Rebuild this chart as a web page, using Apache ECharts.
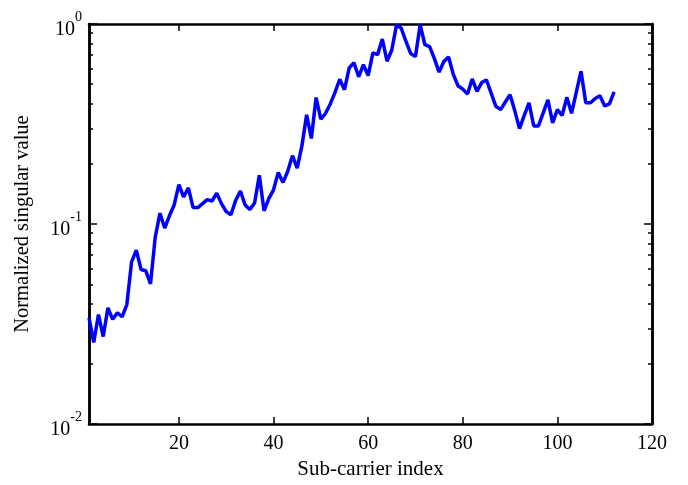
<!DOCTYPE html>
<html>
<head>
<meta charset="utf-8">
<script src="https://cdn.jsdelivr.net/npm/echarts@6/dist/echarts.min.js"></script>
<style>
html,body{margin:0;padding:0;background:#fff;}
#chart{width:688px;height:485px;}
</style>
</head>
<body>
<div id="chart"></div>
<script>
// Sub-carrier indices 1..112
const subCarriers = [
  1,2,3,4,5,6,7,8,9,10,11,12,13,14,15,16,17,18,19,20,
  21,22,23,24,25,26,27,28,29,30,31,32,33,34,35,36,37,38,39,40,
  41,42,43,44,45,46,47,48,49,50,51,52,53,54,55,56,57,58,59,60,
  61,62,63,64,65,66,67,68,69,70,71,72,73,74,75,76,77,78,79,80,
  81,82,83,84,85,86,87,88,89,90,91,92,93,94,95,96,97,98,99,100,
  101,102,103,104,105,106,107,108,109,110,111,112
];
// Normalized singular values
const singularValues = [
  0.034,0.0256,0.0353,0.0274,0.0381,0.0334,0.036,0.0344,0.0396,0.0647,
  0.074,0.0593,0.0584,0.0502,0.086,0.1133,0.0955,0.110,0.1246,0.1575,
  0.1365,0.1518,0.1209,0.1209,0.1265,0.1324,0.1304,0.1428,0.1265,0.1155,
  0.1113,0.1313,0.1462,0.1246,0.1181,0.1275,0.1753,0.1164,0.1339,0.1483,
  0.1809,0.1615,0.1834,0.2195,0.1905,0.2459,0.3516,0.2678,0.4290,0.3342,
  0.3577,0.3986,0.4550,0.5294,0.4697,0.6031,0.6399,0.5447,0.6256,0.5521,
  0.7166,0.7029,0.8414,0.6517,0.7416,0.99,0.9523,0.8178,0.7112,0.6874,
  0.99,0.7877,0.7700,0.6719,0.5752,0.6495,0.6834,0.5604,0.4915,0.4724,
  0.4465,0.5312,0.4607,0.5097,0.5253,0.4516,0.3874,0.3735,0.4077,0.4430,
  0.3680,0.2999,0.3497,0.4040,0.3093,0.3093,0.3597,0.4180,0.3203,0.3735,
  0.3488,0.4300,0.3577,0.4566,0.5798,0.4040,0.4040,0.4242,0.4374,0.3896,
  0.3986,0.4582
];
// Axis ticks
const xTicks = [20, 40, 60, 80, 100, 120];
const yMajorTicks = [0.01, 0.1, 1];
const yMinorTicks = [
  0.02,0.03,0.04,0.05,0.06,0.07,0.08,0.09,
  0.2,0.3,0.4,0.5,0.6,0.7,0.8,0.9
];
const xMin = 1, xMax = 120, yMin = 0.01, yMax = 1;

const FONT = '"Liberation Serif", "Times New Roman", serif';
const chart = echarts.init(document.getElementById('chart'), null, {renderer: 'canvas'});

const axisLine = {show: true, lineStyle: {color: '#000', width: 2.5}};
function yAxisDef(pos, ticks, len, withLabel) {
  return {
    type: 'log', logBase: 10, min: yMin, max: yMax, position: pos,
    axisLine: axisLine,
    splitLine: {show: false},
    minorTick: {show: false},
    axisTick: {show: true, inside: true, length: len, customValues: ticks,
               lineStyle: {color: '#000', width: 1.5}},
    axisLabel: withLabel ? {
      show: true, customValues: ticks, margin: 7,
      padding: [12, 0, 0, 0],
      formatter: function (v) {
        const e = Math.round(Math.log10(v));
        return '{b|10}{s|' + e + '}';
      },
      rich: {
        b: {fontFamily: FONT, fontSize: 20, color: '#000', lineHeight: 40},
        s: {fontFamily: FONT, fontSize: 14, color: '#000', lineHeight: 14, verticalAlign: 'top'}
      }
    } : {show: false}
  };
}

const yAxes = [
  Object.assign(yAxisDef('left', yMajorTicks, 8, true), {
    name: 'Normalized singular value', nameLocation: 'middle', nameGap: 56,
    nameTextStyle: {fontFamily: FONT, fontSize: 20.5, color: '#000'}
  }),
  yAxisDef('left', yMinorTicks, 4, false),
  yAxisDef('right', yMajorTicks, 8, false),
  yAxisDef('right', yMinorTicks, 4, false)
];

const option = {
  animation: false,
  backgroundColor: '#fff',
  grid: {left: 89, right: 36, top: 24, bottom: 55.5, containLabel: false},
  xAxis: [
    {
      type: 'value', min: xMin, max: xMax, position: 'bottom',
      name: 'Sub-carrier index', nameLocation: 'middle', nameGap: 29,
      nameTextStyle: {fontFamily: FONT, fontSize: 21, color: '#000'},
      axisLine: axisLine,
      splitLine: {show: false},
      axisTick: {show: true, inside: true, length: 7, customValues: xTicks,
                 lineStyle: {color: '#000', width: 1.5}},
      axisLabel: {show: true, customValues: xTicks, margin: 10,
                  fontFamily: FONT, fontSize: 20, color: '#000'}
    },
    {
      type: 'value', min: xMin, max: xMax, position: 'top',
      axisLine: axisLine,
      splitLine: {show: false},
      axisTick: {show: true, inside: true, length: 7, customValues: xTicks,
                 lineStyle: {color: '#000', width: 1.5}},
      axisLabel: {show: false}
    }
  ],
  yAxis: yAxes,
  series: [{
    type: 'line',
    xAxisIndex: 0, yAxisIndex: 0,
    data: subCarriers.map((x, i) => [x, singularValues[i]]),
    showSymbol: false,
    symbol: 'none',
    lineStyle: {color: '#0000ff', width: 3.5},
    itemStyle: {color: '#0000ff'},
    clip: false
  }]
};
chart.setOption(option);
</script>
</body>
</html>
